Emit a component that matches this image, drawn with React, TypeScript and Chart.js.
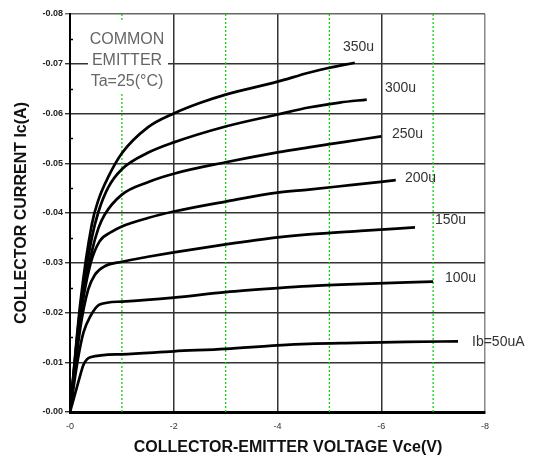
import React, { useEffect, useRef } from 'react';
import { Chart, registerables } from 'chart.js';

Chart.register(...registerables);

// Collector-emitter voltage (V) and collector current (A) for each base current curve
const vce350 = [0, -0.2, -0.42, -0.55, -0.74, -1.0, -1.5, -2, -2.5, -3, -4, -4.6, -5.0, -5.49];
const ic350 = [0, -0.022, -0.0377, -0.0427, -0.0473, -0.052, -0.0572, -0.06, -0.0621, -0.0638, -0.0664, -0.0682, -0.0692, -0.0702];

const vce300 = [0, -0.2, -0.42, -0.55, -0.74, -1.0, -1.5, -2, -3, -4, -4.6, -5.2, -5.72];
const ic300 = [0, -0.021, -0.035, -0.0403, -0.0452, -0.0488, -0.0521, -0.0542, -0.0574, -0.0598, -0.0612, -0.0622, -0.0628];

const vce250 = [0, -0.2, -0.42, -0.55, -0.67, -1.0, -1.5, -2, -3, -4, -4.6, -5.3, -6.0];
const ic250 = [0, -0.02, -0.0322, -0.037, -0.0397, -0.0437, -0.0462, -0.0479, -0.0502, -0.0522, -0.0532, -0.0543, -0.0554];

const vce200 = [0, -0.2, -0.39, -0.57, -0.8, -1.0, -1.5, -2, -3, -4, -4.6, -5.4, -6.28];
const ic200 = [0, -0.019, -0.0296, -0.0343, -0.0362, -0.0373, -0.039, -0.0403, -0.0423, -0.0441, -0.0447, -0.0456, -0.0466];

const vce150 = [0, -0.2, -0.35, -0.48, -0.67, -1.0, -1.5, -2, -3, -4, -4.6, -5.6, -6.65];
const ic150 = [0, -0.017, -0.0246, -0.0276, -0.0293, -0.0302, -0.0312, -0.0321, -0.0337, -0.0351, -0.0357, -0.0364, -0.0371];

const vce100 = [0, -0.15, -0.26, -0.39, -0.57, -1.0, -2, -3, -4, -4.6, -5.5, -7.0];
const ic100 = [0, -0.0105, -0.016, -0.0192, -0.0216, -0.0222, -0.023, -0.0241, -0.0249, -0.0253, -0.0257, -0.0262];

const vce50 = [0, -0.12, -0.19, -0.26, -0.39, -1.0, -2, -3, -4, -4.6, -5.5, -6.5, -7.48];
const ic50 = [0, -0.0045, -0.0071, -0.0095, -0.011, -0.0116, -0.0122, -0.0127, -0.0134, -0.0137, -0.0139, -0.0141, -0.0142];

const curveNames = ['350u', '300u', '250u', '200u', '150u', '100u', 'Ib=50uA'];
const curveVce = [vce350, vce300, vce250, vce200, vce150, vce100, vce50];
const curveIc = [ic350, ic300, ic250, ic200, ic150, ic100, ic50];

// Axis ticks
const xTickValues = [0, -2, -4, -6, -8];
const xTickLabels = ['-0', '-2', '-4', '-6', '-8'];
const yTickValues = [0, -0.01, -0.02, -0.03, -0.04, -0.05, -0.06, -0.07, -0.08];
const yTickLabels = ['-0.00', '-0.01', '-0.02', '-0.03', '-0.04', '-0.05', '-0.06', '-0.07', '-0.08'];
const yMinorTicks = [-0.005, -0.015, -0.025, -0.035, -0.045, -0.055, -0.065, -0.075];
const greenGuides = [-1, -3, -5, -7];

const xTitle = 'COLLECTOR-EMITTER VOLTAGE Vce(V)';
const yTitle = 'COLLECTOR CURRENT Ic(A)';
const noteLines = ['COMMON', 'EMITTER', 'Ta=25(°C)'];

// label placement (pixels, layout only)
const labelSpots = [
  { x: 343, y: 47 },
  { x: 385, y: 88 },
  { x: 392, y: 134 },
  { x: 405, y: 178 },
  { x: 435, y: 220 },
  { x: 445, y: 278 },
  { x: 472, y: 342 },
];

const FONT = '"Liberation Sans", Arial, sans-serif';

const overlayPlugin = {
  id: 'overlay',
  afterDatasetsDraw(chart: any) {
    const ctx = chart.ctx as CanvasRenderingContext2D;
    const yScale = chart.scales.y;
    const area = chart.chartArea;
    ctx.save();
    // minor ticks inside the left axis
    ctx.strokeStyle = '#000';
    ctx.lineWidth = 1.5;
    yMinorTicks.forEach((v) => {
      const py = Math.round(yScale.getPixelForValue(v)) + 0.5;
      ctx.beginPath();
      ctx.moveTo(area.left, py);
      ctx.lineTo(area.left + 3, py);
      ctx.stroke();
    });
    // note box
    ctx.fillStyle = '#fff';
    ctx.fillRect(88, 22, 80, 70);
    ctx.fillStyle = '#666';
    ctx.font = `16px ${FONT}`;
    ctx.textAlign = 'center';
    ctx.textBaseline = 'middle';
    noteLines.forEach((t, i) => ctx.fillText(t, 127, 40 + i * 21));
    // curve labels
    ctx.fillStyle = '#333';
    ctx.font = `14px ${FONT}`;
    ctx.textAlign = 'left';
    curveNames.forEach((t, i) => ctx.fillText(t, labelSpots[i].x, labelSpots[i].y));
    // x title
    ctx.fillStyle = '#111';
    ctx.font = `bold 16px ${FONT}`;
    ctx.textAlign = 'center';
    ctx.fillText(xTitle, 288, 448);
    ctx.restore();
  },
};

export default function App() {
  const canvasRef = useRef<HTMLCanvasElement | null>(null);

  useEffect(() => {
    if (!canvasRef.current) return;
    const curveSets = curveNames.map((name, i) => ({
      label: name,
      data: curveVce[i].map((v, j) => ({ x: v, y: curveIc[i][j] })),
      borderColor: '#000',
      borderWidth: 2.7,
      pointRadius: 0,
      fill: false,
      cubicInterpolationMode: 'monotone' as const,
    }));
    const guideSets = greenGuides.map((g) => ({
      label: 'guide' + g,
      data: [
        { x: g, y: 0 },
        { x: g, y: -0.08 },
      ],
      borderColor: '#10d010',
      borderWidth: 1.3,
      borderDash: [2, 2],
      pointRadius: 0,
      fill: false,
    }));

    const chart = new Chart(canvasRef.current, {
      type: 'line',
      data: { datasets: [...curveSets, ...guideSets] as any },
      options: {
        responsive: false,
        animation: false,
        layout: { padding: { top: 14, right: 50, left: 0, bottom: 0 } },
        plugins: {
          legend: { display: false },
          tooltip: { enabled: false },
        },
        scales: {
          x: {
            type: 'linear',
            min: -8,
            max: 0,
            reverse: true,
            afterBuildTicks: (scale: any) => {
              scale.ticks = xTickValues.map((v) => ({ value: v }));
            },
            afterFit: (scale: any) => {
              scale.height = 50;
            },
            ticks: {
              callback: (_v: any, i: number) => xTickLabels[i],
              font: { family: FONT, size: 9 },
              color: '#333',
              padding: 9,
              maxRotation: 0,
            },
            grid: {
              drawTicks: false,
              color: (c: any) => (c.tick && c.tick.value === -8 ? '#888' : '#333'),
              lineWidth: 1.5,
            },
            border: { display: true, color: '#000', width: 3 },
          },
          y: {
            type: 'linear',
            min: -0.08,
            max: 0,
            reverse: true,
            afterBuildTicks: (scale: any) => {
              scale.ticks = yTickValues.map((v) => ({ value: v }));
            },
            afterFit: (scale: any) => {
              scale.width = 70;
            },
            ticks: {
              callback: (_v: any, i: number) => yTickLabels[i],
              font: { family: FONT, size: 9, weight: 'bold' },
              color: '#222',
              padding: 2,
            },
            grid: {
              tickLength: 5,
              color: (c: any) => (c.tick && c.tick.value === -0.08 ? '#666' : '#333'),
              lineWidth: 1.4,
            },
            border: { display: true, color: '#000', width: 2 },
            title: {
              display: true,
              text: yTitle,
              color: '#111',
              font: { family: FONT, size: 16, weight: 'bold' },
              padding: { top: 12, bottom: 0 },
            },
          },
        },
      },
      plugins: [overlayPlugin],
    });
    return () => chart.destroy();
  }, []);

  return (
    <div style={{ position: 'absolute', left: 0, top: 0, width: 535, height: 462, background: '#fff' }}>
      <canvas ref={canvasRef} width={535} height={462} style={{ display: 'block' }} />
    </div>
  );
}
